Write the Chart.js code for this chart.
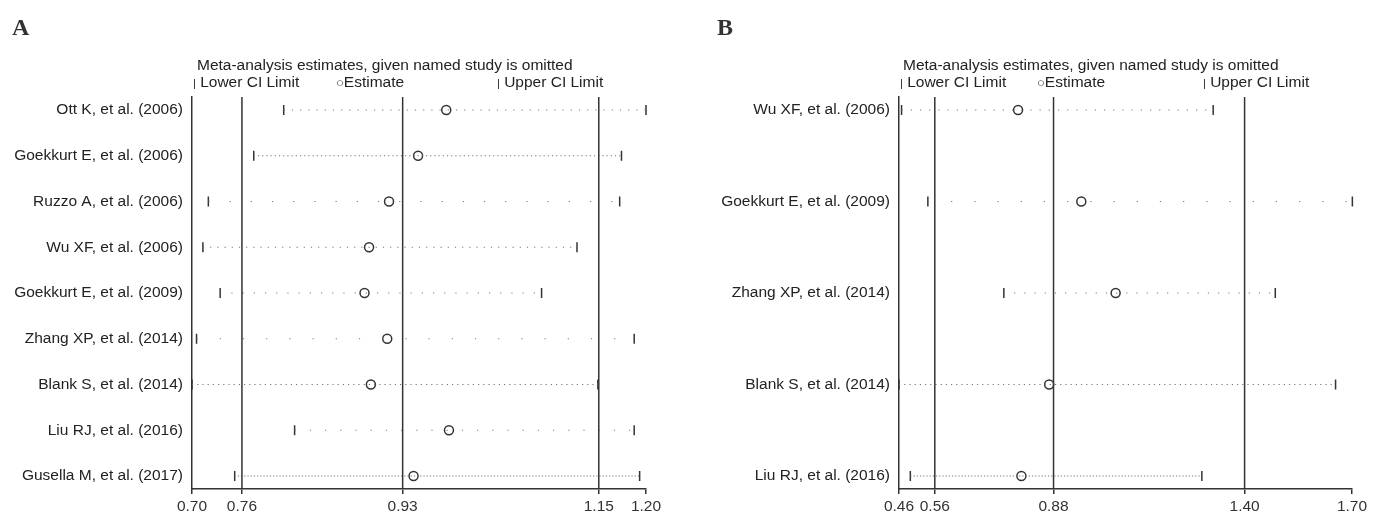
<!DOCTYPE html>
<html>
<head>
<meta charset="utf-8">
<script src="https://cdn.jsdelivr.net/npm/chart.js@4/dist/chart.umd.min.js"></script>
<style>
  body { margin: 0; background: #fff; width: 1373px; height: 514px; overflow: hidden; position: relative; font-family: "Liberation Sans", Arial, sans-serif; }
  .panel { position: absolute; top: 0; height: 514px; }
  .letter { position: absolute; font-family: "Liberation Serif", serif; font-weight: bold; font-size: 24px; color: #333; }
  .txt { position: absolute; font-size: 15.5px; line-height: 18px; color: #222; white-space: nowrap; }
  .sym { font-size: 11px; }
  .circ { font-size: 13px; }
</style>
</head>
<body>
<div class="panel" style="left:0;width:686px"><canvas id="chartA"></canvas></div>
<div class="panel" style="left:686px;width:687px"><canvas id="chartB"></canvas></div>

<div class="letter" style="left:12px;top:14px">A</div>
<div class="txt" style="left:197px;top:56px">Meta-analysis estimates, given named study is omitted</div>
<div class="txt" style="left:193px;top:73px"><span class="sym">|</span> Lower CI Limit</div>
<div class="txt" style="left:336px;top:73px"><span class="circ">&#9675;</span>Estimate</div>
<div class="txt" style="left:497px;top:73px"><span class="sym">|</span> Upper CI Limit</div>

<div class="letter" style="left:717px;top:14px">B</div>
<div class="txt" style="left:903px;top:56px">Meta-analysis estimates, given named study is omitted</div>
<div class="txt" style="left:900px;top:73px"><span class="sym">|</span> Lower CI Limit</div>
<div class="txt" style="left:1037px;top:73px"><span class="circ">&#9675;</span>Estimate</div>
<div class="txt" style="left:1203px;top:73px"><span class="sym">|</span> Upper CI Limit</div>

<script>
// Panel A
var studiesA = ["Ott K, et al. (2006)", "Goekkurt E, et al. (2006)", "Ruzzo A, et al. (2006)",
    "Wu XF, et al. (2006)", "Goekkurt E, et al. (2009)", "Zhang XP, et al. (2014)",
    "Blank S, et al. (2014)", "Liu RJ, et al. (2016)", "Gusella M, et al. (2017)"];
var lowerA = [0.801, 0.768, 0.718, 0.712, 0.731, 0.705, 0.700, 0.813, 0.747];
var estA   = [0.980, 0.949, 0.917, 0.895, 0.890, 0.915, 0.897, 0.983, 0.944];
var upperA = [1.200, 1.173, 1.171, 1.124, 1.085, 1.187, 1.147, 1.187, 1.193];
var refA = [0.755, 0.932, 1.148];
var tickValsA = [0.70, 0.755, 0.932, 1.148, 1.20];
var tickLabelsA = ["0.70", "0.76", "0.93", "1.15", "1.20"];

// Panel B
var studiesB = ["Wu XF, et al. (2006)", "Goekkurt E, et al. (2009)", "Zhang XP, et al. (2014)",
    "Blank S, et al. (2014)", "Liu RJ, et al. (2016)"];
var lowerB = [0.467, 0.539, 0.747, 0.460, 0.491];
var estB   = [0.786, 0.959, 1.053, 0.871, 0.795];
var upperB = [1.320, 1.701, 1.490, 1.655, 1.289];
var refB = [0.558, 0.883, 1.406];
var tickValsB = [0.46, 0.558, 0.883, 1.406, 1.70];
var tickLabelsB = ["0.46", "0.56", "0.88", "1.40", "1.70"];

// how dense the dotted CI line looks in each row (gap in px)
var gapsA = [7, 3, 20, 6, 10, 22, 4, 14, 2];
var gapsB = [8, 22, 9, 4, 2];

var ink = "#333";

function buildPanel(canvasId, names, lower, est, upper, refs, tickVals, tickLabels, gaps, box) {
    var pad = 13 / ((box.bottom - box.top - 26) / (names.length - 1));
    var yMin = -pad, yMax = names.length - 1 + pad;
    var datasets = [];

    // overall estimate / CI reference lines
    refs.forEach(function (r) {
        datasets.push({
            type: "line",
            data: [{x: r, y: yMin}, {x: r, y: yMax}],
            borderColor: ink, borderWidth: 1.5, pointRadius: 0
        });
    });

    // dotted CI lines
    names.forEach(function (n, i) {
        datasets.push({
            type: "line",
            data: [{x: lower[i], y: i}, {x: upper[i], y: i}],
            borderColor: "#777", borderWidth: 1.2, pointRadius: 0,
            borderDash: [1.2, gaps[i]]
        });
    });

    datasets.push({
        data: lower.map(function (v, i) { return {x: v, y: i}; }),
        pointStyle: "line", rotation: 90, radius: 5,
        borderColor: ink, borderWidth: 1.5
    });
    datasets.push({
        data: upper.map(function (v, i) { return {x: v, y: i}; }),
        pointStyle: "line", rotation: 90, radius: 5,
        borderColor: ink, borderWidth: 1.5
    });
    datasets.push({
        data: est.map(function (v, i) { return {x: v, y: i}; }),
        pointStyle: "circle", radius: 4.5,
        borderColor: ink, borderWidth: 1.5, backgroundColor: "#fff"
    });

    datasets.forEach(function (d) { d.clip = false; });

    const ctx = document.getElementById(canvasId).getContext("2d");
    return new Chart(ctx, {
        type: "scatter",
        data: { datasets: datasets },
        options: {
            responsive: true,
            maintainAspectRatio: false,
            animation: false,
            layout: { padding: { top: box.top, right: box.right, left: 0, bottom: 0 } },
            plugins: { legend: { display: false }, tooltip: { enabled: false } },
            scales: {
                x: {
                    type: "linear",
                    min: tickVals[0],
                    max: tickVals[tickVals.length - 1],
                    afterBuildTicks: function (scale) {
                        scale.ticks = tickVals.map(function (v) { return {value: v}; });
                    },
                    afterFit: function (scale) { scale.height = 25; },
                    ticks: {
                        autoSkip: false, maxRotation: 0, padding: 3,
                        color: ink,
                        font: { family: "Liberation Sans", size: 15.5 },
                        callback: function (v) { return tickLabels[tickVals.indexOf(v)]; }
                    },
                    grid: { drawOnChartArea: false, drawTicks: true, tickLength: 5, color: ink, lineWidth: 1.5 },
                    border: { display: true, color: ink, width: 1.5 }
                },
                y: {
                    type: "linear",
                    reverse: true,
                    min: yMin,
                    max: yMax,
                    afterBuildTicks: function (scale) {
                        scale.ticks = names.map(function (n, i) { return {value: i}; });
                    },
                    afterFit: function (scale) { scale.width = box.left; },
                    ticks: {
                        autoSkip: false, padding: 9,
                        color: "#222",
                        font: { family: "Liberation Sans", size: 15.5 },
                        callback: function (v) { return names[v]; }
                    },
                    grid: { drawOnChartArea: false, drawTicks: false },
                    border: { display: true, color: ink, width: 1.5 }
                }
            }
        }
    });
}

buildPanel("chartA", studiesA, lowerA, estA, upperA, refA, tickValsA, tickLabelsA, gapsA,
    { left: 192, right: 40, top: 97, bottom: 489 });
buildPanel("chartB", studiesB, lowerB, estB, upperB, refB, tickValsB, tickLabelsB, gapsB,
    { left: 213, right: 21, top: 97, bottom: 489 });
</script>
</body>
</html>
